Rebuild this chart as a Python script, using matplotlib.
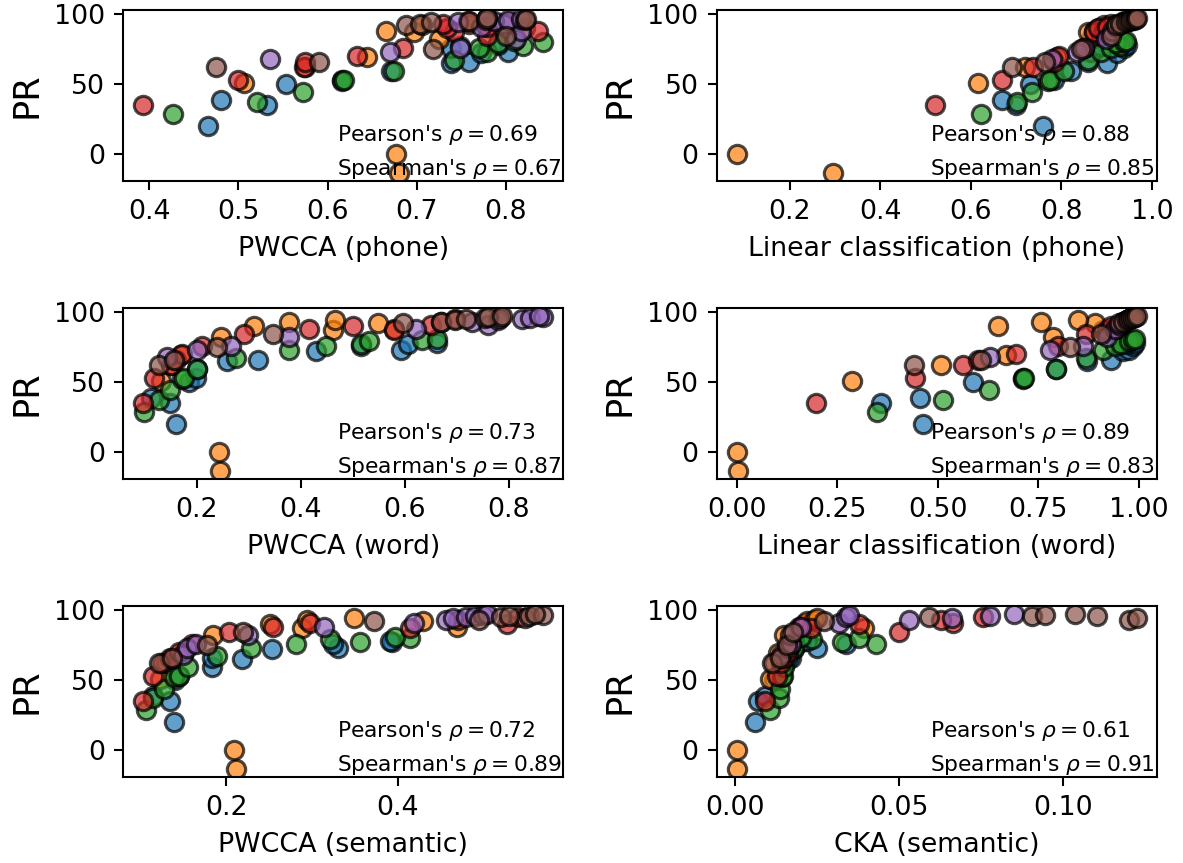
import matplotlib
matplotlib.use('Agg')
import matplotlib.pyplot as plt

colors = ['tab:blue', 'tab:orange', 'tab:green', 'tab:red', 'tab:purple', 'tab:brown']

# PR values per model (shared by every panel)
pr_blue = [20, 35, 39, 50, 53, 59, 65, 66, 72, 73, 76, 77, 78]
pr_orange = [-13.5, 0, 51, 62, 69, 82, 87, 88, 90, 92, 93, 94]
pr_green = [29, 37, 44, 52, 53, 59, 67, 73, 76, 77, 79, 80, 81]
pr_red = [35, 53, 62, 66, 70, 76, 84, 87, 88, 90, 91, 93, 95]
pr_purple = [68, 73, 76, 82, 88, 91, 93, 94, 95, 96, 96.5, 97]
pr_brown = [62, 66, 75, 84, 92, 93, 94, 95, 95.5, 96, 96.5, 97]

# x values per panel, one list per model in the same order as the PR lists
pwcca_phone = {
    'blue': [0.466, 0.532, 0.480, 0.553, 0.616, 0.671, 0.738, 0.759, 0.772, 0.802, 0.738, 0.749, 0.791],
    'orange': [0.680, 0.677, 0.506, 0.575, 0.644, 0.725, 0.697, 0.666, 0.821, 0.706, 0.759, 0.802],
    'green': [0.427, 0.521, 0.572, 0.616, 0.618, 0.675, 0.742, 0.779, 0.770, 0.819, 0.791, 0.842, 0.809],
    'red': [0.393, 0.499, 0.573, 0.575, 0.633, 0.685, 0.779, 0.742, 0.836, 0.734, 0.779, 0.729, 0.757],
    'purple': [0.535, 0.670, 0.749, 0.811, 0.817, 0.772, 0.798, 0.746, 0.787, 0.802, 0.817, 0.779],
    'brown': [0.475, 0.590, 0.718, 0.800, 0.688, 0.704, 0.716, 0.759, 0.778, 0.821, 0.823, 0.779],
}
lin_phone = {
    'blue': [0.759, 0.700, 0.668, 0.730, 0.784, 0.821, 0.900, 0.858, 0.923, 0.865, 0.938, 0.887, 0.945],
    'orange': [0.295, 0.083, 0.615, 0.719, 0.790, 0.865, 0.858, 0.872, 0.883, 0.894, 0.909, 0.938],
    'green': [0.622, 0.703, 0.735, 0.770, 0.774, 0.805, 0.858, 0.887, 0.909, 0.930, 0.920, 0.938, 0.942],
    'red': [0.520, 0.668, 0.737, 0.784, 0.795, 0.850, 0.887, 0.872, 0.894, 0.880, 0.900, 0.923, 0.938],
    'purple': [0.780, 0.835, 0.850, 0.898, 0.912, 0.920, 0.930, 0.938, 0.945, 0.953, 0.956, 0.960],
    'brown': [0.690, 0.763, 0.843, 0.909, 0.920, 0.930, 0.942, 0.949, 0.953, 0.960, 0.964, 0.967],
}
pwcca_word = {
    'blue': [0.160, 0.149, 0.113, 0.185, 0.198, 0.200, 0.259, 0.317, 0.429, 0.593, 0.516, 0.606, 0.661],
    'orange': [0.245, 0.243, 0.131, 0.150, 0.169, 0.246, 0.461, 0.580, 0.310, 0.548, 0.378, 0.465],
    'green': [0.099, 0.127, 0.149, 0.172, 0.176, 0.201, 0.275, 0.378, 0.449, 0.515, 0.532, 0.632, 0.661],
    'red': [0.097, 0.118, 0.150, 0.160, 0.172, 0.210, 0.291, 0.580, 0.416, 0.500, 0.651, 0.670, 0.696],
    'purple': [0.143, 0.201, 0.266, 0.378, 0.622, 0.760, 0.728, 0.779, 0.824, 0.840, 0.866, 0.857],
    'brown': [0.127, 0.156, 0.240, 0.346, 0.596, 0.670, 0.696, 0.718, 0.754, 0.783, 0.760, 0.786],
}
lin_word = {
    'blue': [0.464, 0.358, 0.455, 0.588, 0.712, 0.795, 0.870, 0.930, 0.960, 0.975, 0.985, 0.970, 0.990],
    'orange': [0.004, 0.000, 0.286, 0.509, 0.670, 0.786, 0.910, 0.930, 0.650, 0.890, 0.757, 0.849],
    'green': [0.348, 0.513, 0.627, 0.712, 0.715, 0.795, 0.869, 0.910, 0.940, 0.955, 0.975, 0.985, 0.990],
    'red': [0.197, 0.443, 0.563, 0.600, 0.694, 0.799, 0.869, 0.920, 0.940, 0.930, 0.955, 0.960, 0.975],
    'purple': [0.629, 0.778, 0.861, 0.920, 0.940, 0.950, 0.960, 0.970, 0.975, 0.980, 0.985, 0.990],
    'brown': [0.440, 0.608, 0.828, 0.906, 0.950, 0.960, 0.970, 0.975, 0.980, 0.985, 0.990, 0.995],
}
pwcca_sem = {
    'blue': [0.139, 0.134, 0.115, 0.140, 0.145, 0.183, 0.219, 0.183, 0.253, 0.331, 0.325, 0.393, 0.391],
    'orange': [0.211, 0.209, 0.123, 0.130, 0.150, 0.185, 0.288, 0.469, 0.251, 0.430, 0.294, 0.349],
    'green': [0.106, 0.115, 0.127, 0.139, 0.145, 0.156, 0.189, 0.229, 0.282, 0.356, 0.321, 0.415, 0.397],
    'red': [0.103, 0.115, 0.125, 0.135, 0.145, 0.160, 0.203, 0.415, 0.255, 0.528, 0.298, 0.470, 0.540],
    'purple': [0.150, 0.154, 0.165, 0.225, 0.314, 0.419, 0.456, 0.465, 0.480, 0.490, 0.500, 0.504],
    'brown': [0.122, 0.137, 0.178, 0.220, 0.372, 0.495, 0.549, 0.520, 0.530, 0.553, 0.570, 0.560],
}
cka_sem = {
    'blue': [0.006, 0.007, 0.009, 0.012, 0.013, 0.0145, 0.016, 0.017, 0.018, 0.025, 0.0337, 0.020, 0.022],
    'orange': [0.0005, 0.0005, 0.0107, 0.012, 0.013, 0.0148, 0.0393, 0.020, 0.021, 0.022, 0.024, 0.025],
    'green': [0.0107, 0.0133, 0.0138, 0.0143, 0.0145, 0.015, 0.016, 0.018, 0.0429, 0.0327, 0.0235, 0.0378, 0.020],
    'red': [0.0092, 0.0128, 0.014, 0.015, 0.016, 0.017, 0.050, 0.023, 0.0194, 0.0378, 0.0663, 0.0628, 0.0755],
    'purple': [0.014, 0.016, 0.017, 0.0168, 0.020, 0.0316, 0.053, 0.066, 0.0337, 0.0776, 0.0347, 0.085],
    'brown': [0.0112, 0.0138, 0.0158, 0.0177, 0.027, 0.120, 0.1224, 0.0592, 0.1102, 0.0903, 0.0944, 0.1036],
}

panels = [pwcca_phone, lin_phone, pwcca_word, lin_word, pwcca_sem, cka_sem]
xlabels = ['PWCCA (phone)', 'Linear classification (phone)',
           'PWCCA (word)', 'Linear classification (word)',
           'PWCCA (semantic)', 'CKA (semantic)']
pearson = [0.69, 0.88, 0.73, 0.89, 0.72, 0.61]
spearman = [0.67, 0.85, 0.87, 0.83, 0.89, 0.91]
xticks = [[0.4, 0.5, 0.6, 0.7, 0.8], [0.2, 0.4, 0.6, 0.8, 1.0],
          [0.2, 0.4, 0.6, 0.8], [0.0, 0.25, 0.5, 0.75, 1.0],
          [0.2, 0.4], [0.0, 0.05, 0.1]]
xticklabels = [['0.4', '0.5', '0.6', '0.7', '0.8'], ['0.2', '0.4', '0.6', '0.8', '1.0'],
               ['0.2', '0.4', '0.6', '0.8'], ['0.00', '0.25', '0.50', '0.75', '1.00'],
               ['0.2', '0.4'], ['0.00', '0.05', '0.10']]

pr = {'blue': pr_blue, 'orange': pr_orange, 'green': pr_green,
      'red': pr_red, 'purple': pr_purple, 'brown': pr_brown}
models = ['blue', 'orange', 'green', 'red', 'purple', 'brown']

dpi = 187
fig, axes = plt.subplots(3, 2, figsize=(1183 / dpi, 863 / dpi), dpi=dpi)
fig.subplots_adjust(left=0.104, right=0.978, top=0.988, bottom=0.0997,
                    wspace=0.348, hspace=0.747)

for i, ax in enumerate(axes.flat):
    data = panels[i]
    for m, c in zip(models, colors):
        ax.scatter(data[m], pr[m], s=50, color=c, edgecolor='k',
                   linewidth=1.2, alpha=0.7)
    ax.set_xticks(xticks[i])
    ax.set_xticklabels(xticklabels[i], fontsize=10.3)
    ax.set_yticks([0, 50, 100])
    ax.tick_params(axis='y', labelsize=10.3)
    ax.set_xlabel(xlabels[i], fontsize=10.3)
    ax.set_ylabel('PR', fontsize=13.5)
    ax.text(0.485, 0.2, "Pearson's $\\rho = %.2f$" % pearson[i],
            transform=ax.transAxes, fontsize=8.4, ha='left', va='bottom')
    ax.text(0.485, 0.0, "Spearman's $\\rho = %.2f$" % spearman[i],
            transform=ax.transAxes, fontsize=8.4, ha='left', va='bottom')

fig.savefig('out.png', dpi=dpi)
